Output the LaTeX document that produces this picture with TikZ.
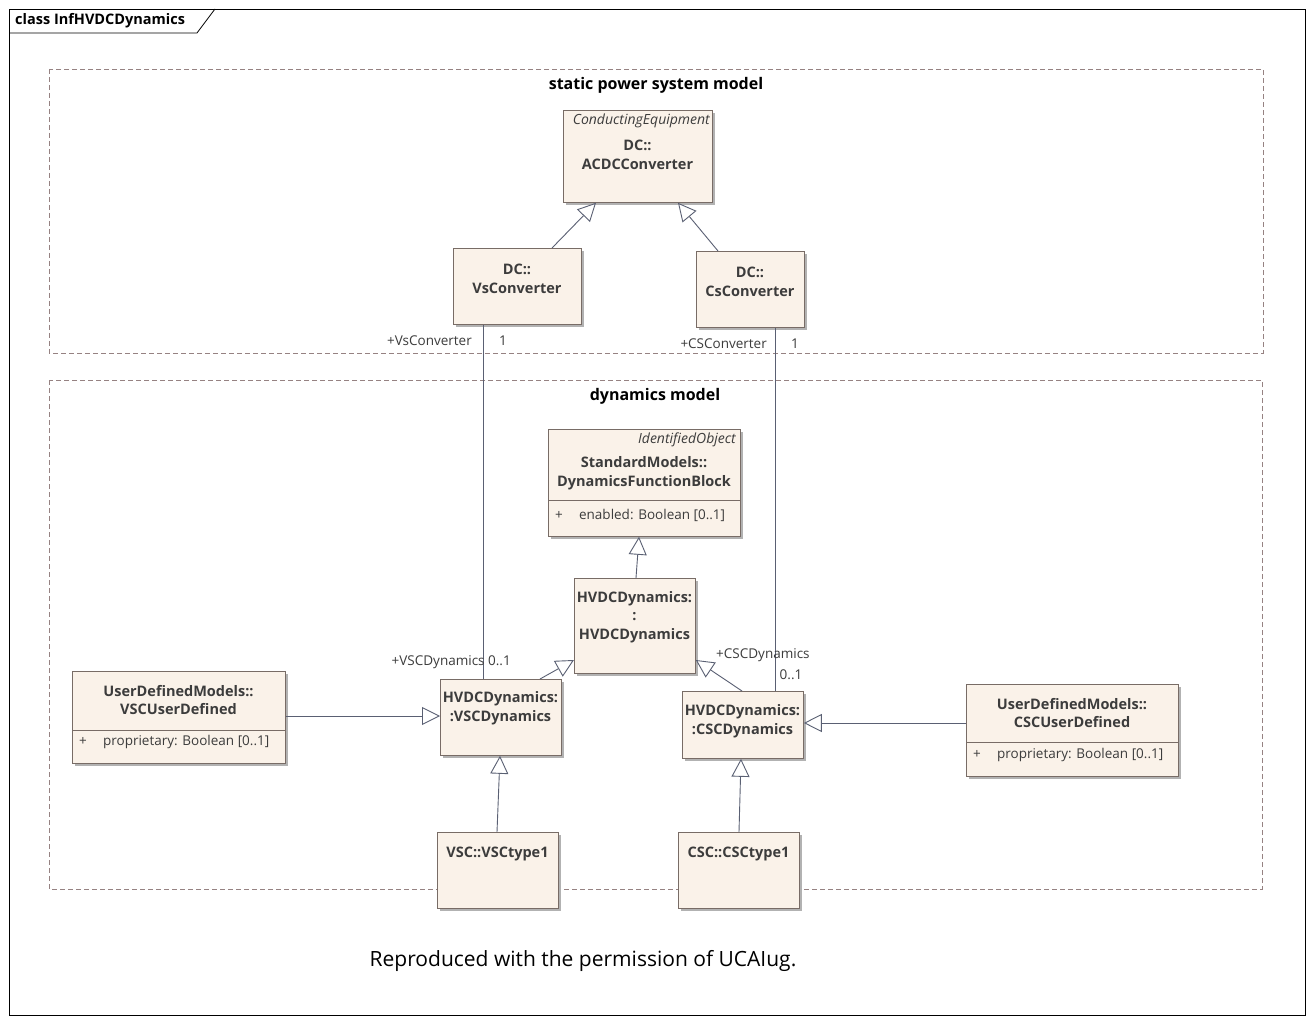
\documentclass[tikz,border=0pt]{standalone}
\usepackage{fontspec}
\setmainfont{Open Sans}
\usetikzlibrary{arrows.meta,calc}
\definecolor{bfill}{RGB}{250,242,233}
\definecolor{bline}{RGB}{120,108,102}
\definecolor{txt}{RGB}{60,60,60}
\definecolor{conn}{RGB}{90,96,115}
\definecolor{dash}{RGB}{150,130,130}
\tikzset{
 ubox/.style={draw=bline,fill=bfill,anchor=north west,inner sep=0,line width=0.8pt},
 shad/.style={fill=black!30,draw=none,anchor=north west,inner sep=0},
 nm/.style={font=\bfseries\fontsize{14.5}{18.5}\selectfont,text=txt,align=center,inner sep=0},
 st/.style={font=\itshape\fontsize{14}{16}\selectfont,text=txt,inner sep=0,anchor=north east},
 attr/.style={font=\fontsize{13.5}{16}\selectfont,text=txt,inner sep=0,anchor=west},
 lb/.style={font=\fontsize{13.5}{16}\selectfont,text=txt,inner sep=0},
 gen/.style={draw=conn,line width=0.9pt,-{Triangle[open,fill=white,length=18,width=18]}},
 assoc/.style={draw=conn,line width=0.9pt},
 frm/.style={draw=dash,dashed,dash pattern=on 5pt off 3pt,line width=0.8pt}
}
\newcommand\ubox[5]{% name x y w h
 \node[shad,minimum width=#4,minimum height=#5] (#1s) at (#2+3,#3+3) {};
 \node[ubox,minimum width=#4,minimum height=#5] (#1) at (#2,#3) {};}
\begin{document}
\begin{tikzpicture}[x=1pt,y=-1pt]
\useasboundingbox (0,0) rectangle (1315,1024);
\fill[white] (0,0) rectangle (1315,1024);
\draw[line width=0.8pt] (9,9) rectangle (1305,1015);
\draw[line width=0.8pt] (9,33) -- (197,33) -- (215,9);
\node[font=\bfseries\fontsize{14.5}{17}\selectfont,anchor=west,inner sep=0] (title) at (15,21) {class InfHVDCDynamics};
\draw[frm] (49,69) rectangle (1263,353);
\draw[frm] (49,380) rectangle (1262,889);
\node[font=\bfseries\fontsize{16}{19}\selectfont,inner sep=0] (t1) at (656,85) {static power system model};
\node[font=\bfseries\fontsize{16}{19}\selectfont,inner sep=0] (t2) at (655,396) {dynamics model};
% boxes
\ubox{acdc}{563}{110}{149}{92}
\node[st] (acdcst) at (710,114) {ConductingEquipment};
\node[nm] (acdcn) at (637.5,155) {DC::\\ACDCConverter};
\ubox{vs}{453}{248}{128}{76}
\node[nm] (vsn) at (517,279) {DC::\\VsConverter};
\ubox{cs}{696}{251}{108}{76}
\node[nm] (csn) at (750,282) {DC::\\CsConverter};
\ubox{dfb}{548}{429}{192}{107}
\draw[bline,line width=0.8pt] (548,500) -- (740,500);
\node[st] (dfbst) at (736,433) {IdentifiedObject};
\node[nm] (dfbn) at (644,473) {StandardModels::\\DynamicsFunctionBlock};
\node[attr] (dfba) at (555,515) {+\hspace{1.2em}enabled: Boolean [0..1]};
\ubox{hv}{574}{578}{121}{95}
\node[nm] (hvn) at (634.5,617) {HVDCDynamics:\\:\\HVDCDynamics};
\ubox{vd}{440}{679}{121}{76}
\node[nm] (vdn) at (500.5,708) {HVDCDynamics:\\:VSCDynamics};
\ubox{cd}{682}{691}{121}{67}
\node[nm] (cdn) at (742.5,721) {HVDCDynamics:\\:CSCDynamics};
\ubox{vu}{72}{671}{213}{92}
\draw[bline,line width=0.8pt] (72,730) -- (285,730);
\node[nm] (vun) at (178.5,700) {UserDefinedModels::\\VSCUserDefined};
\node[attr] (vua) at (79,742) {+\hspace{1.2em}proprietary: Boolean [0..1]};
\ubox{cu}{966}{684}{212}{92}
\draw[bline,line width=0.8pt] (966,742) -- (1178,742);
\node[nm] (cun) at (1072,713) {UserDefinedModels::\\CSCUserDefined};
\node[attr] (cua) at (973,755) {+\hspace{1.2em}proprietary: Boolean [0..1]};
\ubox{v1}{437}{832}{121}{76}
\node[nm] (v1n) at (497.5,854) {VSC::VSCtype1};
\ubox{c1}{678}{832}{121}{76}
\node[nm] (c1n) at (738.5,854) {CSC::CSCtype1};
% connectors
\draw[gen] (vs.north -| 552,0) -- (acdc.south -| 596,0);
\draw[gen] (cs.north -| 718,0) -- (acdc.south -| 678,0);
\draw[assoc] (vs.south -| 483,0) -- (vd.north -| 483,0);
\draw[assoc] (cs.south -| 775,0) -- (cd.north -| 775,0);
\draw[gen] (hv.north -| 636,0) -- (dfb.south -| 639,0);
\draw[gen] (vd.north -| 540,0) -- (hv.west |- 0,660);
\draw[gen] (cd.north -| 742,0) -- (hv.east |- 0,660);
\draw[gen] (vu.east |- 0,716) -- (vd.west |- 0,716);
\draw[gen] (cu.west |- 0,723) -- (cd.east |- 0,723);
\draw[gen] (v1.north -| 497,0) -- (vd.south -| 500,0);
\draw[gen] (c1.north -| 739,0) -- (cd.south -| 741,0);
% labels
\node[lb,anchor=east] (l1) at (472,341) {+VsConverter};
\node[lb] (l2) at (503,341) {1};
\node[lb,anchor=east] (l3) at (767,344) {+CSConverter};
\node[lb] (l4) at (795,344) {1};
\node[lb,anchor=east] (l5) at (511,662) {+VSCDynamics 0..1};
\node[lb,anchor=west] (l6) at (716,655) {+CSCDynamics};
\node[lb] (l7) at (791,675) {0..1};
\node[font=\fontsize{21}{25}\selectfont,inner sep=0] (foot) at (583,961) {Reproduced with the permission of UCAIug.};
\end{tikzpicture}
\end{document}
